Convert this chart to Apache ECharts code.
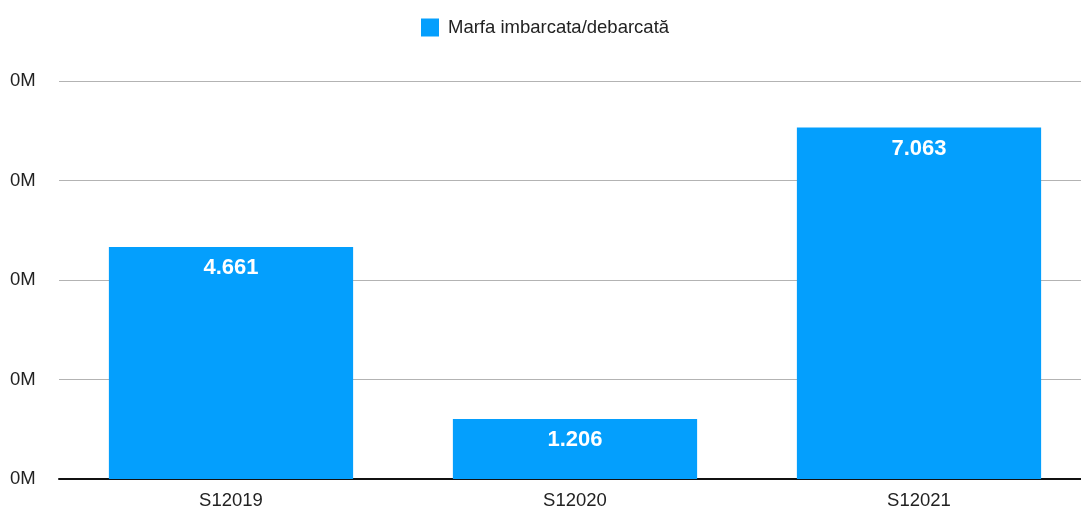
<!DOCTYPE html>
<html><head><meta charset="utf-8">
<script src="https://cdn.jsdelivr.net/npm/echarts@6/dist/echarts.min.js"></script>
<style>html,body{margin:0;padding:0;background:#fff;overflow:hidden;width:1081px;height:510px}#wrap{width:1081px;height:510px;overflow:hidden;position:relative}#c{width:1091px;height:510px;position:absolute;left:0;top:0}</style>
</head><body><div id="wrap"><div id="c"></div></div>
<script>
const categories = ['S12019', 'S12020', 'S12021'];
const values = [4661, 1206, 7063];
const seriesName = 'Marfa imbarcata/debarcată';
const yTicks = [0, 2000, 4000, 6000, 8000];

function fmtThousands(v){ return String(v).replace(/\B(?=(\d{3})+(?!\d))/g, '.'); }

const chart = echarts.init(document.getElementById('c'));
chart.setOption({
  animation: false,
  textStyle: { fontFamily: 'Liberation Sans, Arial, sans-serif' },
  legend: {
    top: 13, left: 416, itemWidth: 18, itemHeight: 18, itemGap: 8,
    icon: 'rect',
    textStyle: { fontSize: 18.5, color: '#222', padding: [0, 0, 0, 4] },
    data: [seriesName]
  },
  grid: { left: 59, right: 0, top: 81, bottom: 29, containLabel: false },
  xAxis: {
    type: 'category', data: categories,
    axisLine: { lineStyle: { color: '#111', width: 2 } },
    axisTick: { show: false },
    axisLabel: { fontSize: 18.5, color: '#222', margin: 12 }
  },
  yAxis: {
    type: 'value', min: yTicks[0], max: yTicks[yTicks.length-1], interval: 2000,
    axisLine: { show: false }, axisTick: { show: false },
    splitLine: { lineStyle: { color: '#b3b3b3', width: 1 } },
    axisLabel: { fontSize: 18.5, color: '#222', align: 'left', margin: 49,
      formatter: v => Math.round(v/1e6) + 'M' }
  },
  series: [{
    name: seriesName, type: 'bar', data: values, barWidth: '71%',
    itemStyle: { color: '#049ffd' },
    label: { show: true, position: 'insideTop', distance: 10, color: '#fff',
      fontSize: 22, fontWeight: 'bold', formatter: p => fmtThousands(p.value) }
  }]
});
</script></body></html>
